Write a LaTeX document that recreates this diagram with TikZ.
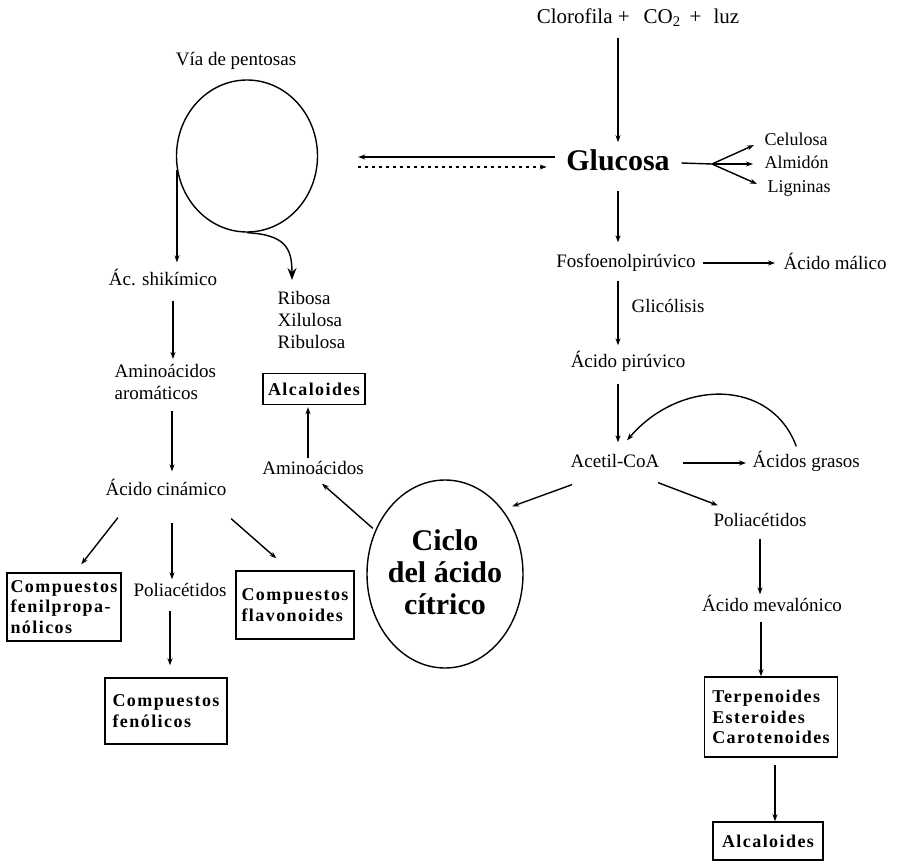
\documentclass[tikz,border=0pt]{standalone}
\usepackage{fontspec}
\setmainfont{Liberation Serif}
\newfontfamily\boxfont{Liberation Serif}[LetterSpace=8]
\usetikzlibrary{arrows.meta,shapes.geometric,calc}
\begin{document}
\begin{tikzpicture}[x=1pt,y=-1pt,line width=1.4pt,
  lbl/.style={inner sep=1pt,font=\fontsize{19}{21}\selectfont,text height=13.7pt,text depth=4.2pt},
  sml/.style={inner sep=1pt,font=\fontsize{18}{20}\selectfont,text height=13pt,text depth=4pt},
  mlbl/.style={inner sep=1pt,font=\fontsize{19}{22}\selectfont,align=left},
  bx/.style={draw,line width=1.4pt,inner sep=2pt,font=\boxfont\bfseries\fontsize{18}{20.5}\selectfont,align=left},
  arr/.style={-{Stealth[length=7pt,width=5pt]}},
  bigarr/.style={-{Stealth[length=12pt,width=9pt]}},
  dots/.style={dash pattern=on 3pt off 4pt}]
\useasboundingbox (0,0) rectangle (905,864);

% right column
\node[inner sep=1pt,font=\fontsize{21}{23}\selectfont,text height=15pt,text depth=4.6pt] (clo) at (638,18) {Clorofila +\hspace{14pt}CO\textsubscript{2}\hspace{9pt}+\hspace{12pt}luz};
\node[inner sep=1pt,font=\bfseries\fontsize{30}{32}\selectfont,text height=21.6pt,text depth=6.6pt] (glu) at (618,163) {Glucosa};
\coordinate (br) at (712,164);
\node[sml,anchor=west] (cel) at (763,141) {Celulosa};
\node[sml,anchor=west] (alm) at (763,164) {Almidón};
\node[sml,anchor=west] (lig) at (766,188) {Ligninas};
\node[lbl] (fos) at (626,263) {Fosfoenolpirúvico};
\node[lbl,anchor=west] (mal) at (782,265) {Ácido málico};
\node[lbl] (gli) at (668,308) {Glicólisis};
\node[lbl] (pir) at (628,363) {Ácido pirúvico};
\node[lbl] (ace) at (615,463) {Acetil-CoA};
\node[lbl,anchor=west] (gra) at (751,463) {Ácidos grasos};
\node[lbl] (polr) at (760,522) {Poliacétidos};
\node[lbl] (mev) at (772,607) {Ácido mevalónico};
\node[bx,minimum width=133pt,minimum height=80pt] (ter) at (771,717) {Terpenoides\\Esteroides\\Carotenoides};
\node[bx,minimum width=110pt,minimum height=38pt,align=center] (alr) at (768,841) {Alcaloides};

% centre
\node[draw,ellipse,line width=1.4pt,minimum width=156pt,minimum height=188pt,inner sep=0pt] (kreb) at (445,574) {};
\node[font=\bfseries\fontsize{30}{32}\selectfont,align=center,inner sep=0pt] (krebt) at (445,572) {Ciclo\\del ácido\\cítrico};
\node[lbl] (amino) at (313,470) {Aminoácidos};
\node[bx,minimum width=102pt,minimum height=31pt,align=center] (all) at (314,389) {Alcaloides};

% left part
\node[lbl] (via) at (236,61) {Vía de pentosas};
\node[draw,ellipse,line width=1.4pt,minimum width=141pt,minimum height=152pt,inner sep=0pt] (pent) at (247,156) {};
\node[mlbl,anchor=north west] (rib) at (276,290) {Ribosa\\Xilulosa\\Ribulosa};
\node[lbl] (shi) at (163,281) {Ác. shikímico};
\node[mlbl,anchor=north west] (aro) at (113,363) {Aminoácidos\\aromáticos};
\node[lbl] (cin) at (166,491) {Ácido cinámico};
\node[bx,minimum width=114pt,minimum height=68pt] (fen) at (64,607) {Compuestos\\fenilpropa-\\nólicos};
\node[lbl] (poll) at (180,592) {Poliacétidos};
\node[bx,minimum width=118pt,minimum height=68pt] (fla) at (295,605) {Compuestos\\flavonoides};
\node[bx,minimum width=122pt,minimum height=66pt] (feno) at (166,711) {Compuestos\\fenólicos};

% connectors right column
\draw[arr,shorten <=9pt,shorten >=5pt] (glu.north |- clo.south) -- (glu.north);
\draw ($(glu.east)+(10,0)$) -- (br);
\draw[arr,shorten >=10pt] (br) -- (cel.west);
\draw[arr,shorten >=10pt] (br) -- (alm.west);
\draw[arr,shorten >=10pt] (br) -- (lig.west);
\draw[arr,shorten <=12pt,shorten >=10pt] (glu.south) -- (glu.south |- fos.north);
\draw[arr,shorten <=7pt,shorten >=7pt] (fos.south -| glu.south) -- (glu.south |- pir.north);
\draw[arr,shorten <=6pt,shorten >=7pt] (fos.east) -- (fos.east -| mal.west);
\draw[arr,shorten <=10pt,shorten >=10pt] (pir.south -| glu.south) -- (glu.south |- ace.north);
\draw[arr,shorten <=22pt,shorten >=5pt] (ace.east) -- (ace.east -| gra.west);
\draw[arr] ($(gra.north)+(-10,-6)$) .. controls +(-25,-68) and +(53,-62) .. ($(ace.north)+(12,-12)$);
\draw[arr,shorten >=10pt] ($(ace.south west)+(3,11)$) -- (kreb.48);
\draw[arr] ($(ace.south east)+(-3,9)$) -- ($(polr.north west)+(6,-6)$);
\draw[arr,shorten <=6pt,shorten >=2pt] (polr.south) -- (polr.south |- mev.north);
\draw[arr,shorten <=4pt] ($(mev.south -| ter.north)+(-10,0)$) -- ($(ter.north)+(-10,0)$);
\draw[arr,shorten <=7pt] ($(ter.south)+(4,0)$) -- ($(ter.south |- alr.north)+(4,0)$);

% centre connectors
\coordinate (gw1) at ($(glu.west)+(0,-6)$);
\coordinate (gw2) at ($(glu.west)+(0,4)$);
\draw[arr,shorten <=10pt,shorten >=40pt] (gw1) -- (gw1 -| pent.east);
\draw[arr,dots,shorten <=40pt,shorten >=18pt] (gw2 -| pent.east) -- (gw2);
\draw[arr,shorten <=3pt] (kreb.148) -- ($(amino.south)+(9,3)$);
\draw[arr,shorten <=1pt,shorten >=2pt] ($(amino.north)+(-5,0)$) -- ($(all.south)+(-6,0)$);

% left connectors
\draw[arr,shorten >=8pt] (pent.191) -- (pent.191 |- shi.north);
\draw[bigarr] (pent.south) .. controls +(38,2) and +(0,-32) .. ($(rib.north west)+(16,-10)$);
\draw[arr,shorten <=9pt,shorten >=4pt] ($(shi.south)+(10,0)$) -- ($(shi.south |- aro.north)+(10,0)$);
\draw[arr,shorten <=9pt,shorten >=9pt] ($(aro.south -| cin.north)+(6,0)$) -- ($(cin.north)+(6,0)$);
\draw[arr] ($(cin.south west)+(14,16)$) -- ($(fen.north west)+(75,-8)$);
\draw[arr,shorten <=21pt,shorten >=2pt] ($(cin.south)+(6,0)$) -- ($(cin.south |- poll.north)+(6,0)$);
\draw[arr] ($(cin.south east)+(3,17)$) -- ($(fla.north west)+(41,-12)$);
\draw[arr,shorten <=8pt,shorten >=12pt] ($(poll.south -| feno.north)+(4,0)$) -- ($(feno.north)+(4,0)$);
\end{tikzpicture}
\end{document}
